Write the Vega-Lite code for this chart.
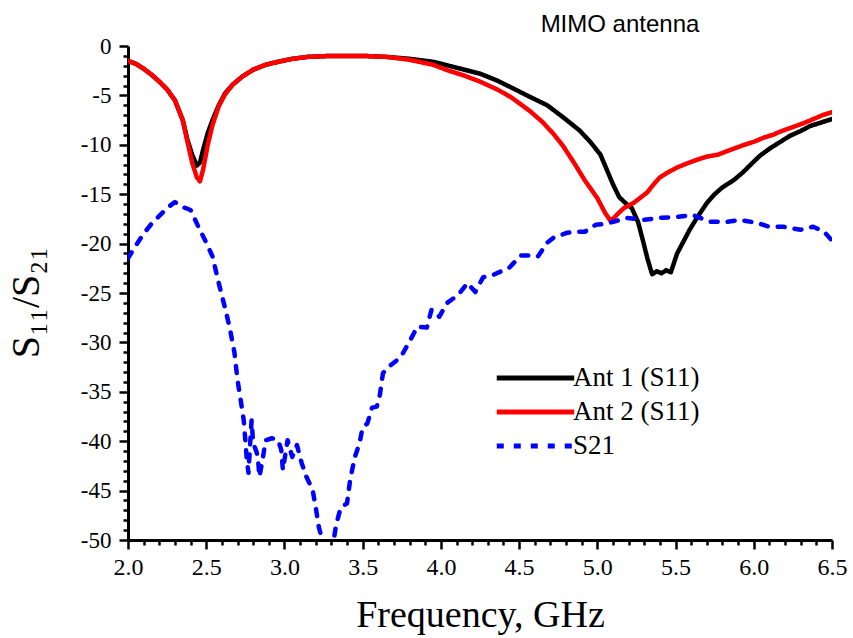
{
  "$schema": "https://vega.github.io/schema/vega-lite/v6.json",
  "width": 704,
  "height": 494,
  "autosize": {"type": "none"},
  "padding": {"left": 128, "top": 46, "right": 21, "bottom": 98},
  "background": "white",
  "title": {"text": "MIMO antenna", "font": "Liberation Sans", "fontSize": 24, "fontWeight": "normal", "color": "black", "anchor": "middle", "dx": 140, "offset": -2},
  "config": {
    "font": "Liberation Serif",
    "view": {"stroke": null},
    "axis": {"grid": false, "labelFont": "Liberation Serif", "titleFont": "Liberation Serif", "labelColor": "black", "titleColor": "black"},
    "legend": {
      "orient": "none", "legendX": 366, "legendY": 316, "title": null, "padding": 0,
      "symbolType": "stroke", "symbolSize": 6000, "symbolStrokeWidth": 5,
      "labelFont": "Liberation Serif", "labelFontSize": 27, "labelColor": "black", "labelOffset": -4,
      "clipHeight": 32, "rowPadding": 2
    }
  },
  "data": {"values": [
    {"series": "Ant 1 (S11)", "f": 2.00, "db": -1.5},
    {"series": "Ant 1 (S11)", "f": 2.05, "db": -1.8},
    {"series": "Ant 1 (S11)", "f": 2.10, "db": -2.3},
    {"series": "Ant 1 (S11)", "f": 2.15, "db": -2.9},
    {"series": "Ant 1 (S11)", "f": 2.20, "db": -3.6},
    {"series": "Ant 1 (S11)", "f": 2.25, "db": -4.4},
    {"series": "Ant 1 (S11)", "f": 2.30, "db": -5.5},
    {"series": "Ant 1 (S11)", "f": 2.35, "db": -7.5},
    {"series": "Ant 1 (S11)", "f": 2.38, "db": -9.5},
    {"series": "Ant 1 (S11)", "f": 2.41, "db": -11.0},
    {"series": "Ant 1 (S11)", "f": 2.44, "db": -12.1},
    {"series": "Ant 1 (S11)", "f": 2.46, "db": -11.8},
    {"series": "Ant 1 (S11)", "f": 2.48, "db": -10.5},
    {"series": "Ant 1 (S11)", "f": 2.51, "db": -8.8},
    {"series": "Ant 1 (S11)", "f": 2.54, "db": -7.5},
    {"series": "Ant 1 (S11)", "f": 2.58, "db": -6.0},
    {"series": "Ant 1 (S11)", "f": 2.62, "db": -4.8},
    {"series": "Ant 1 (S11)", "f": 2.67, "db": -3.9},
    {"series": "Ant 1 (S11)", "f": 2.73, "db": -3.1},
    {"series": "Ant 1 (S11)", "f": 2.80, "db": -2.4},
    {"series": "Ant 1 (S11)", "f": 2.88, "db": -1.9},
    {"series": "Ant 1 (S11)", "f": 2.96, "db": -1.6},
    {"series": "Ant 1 (S11)", "f": 3.05, "db": -1.3},
    {"series": "Ant 1 (S11)", "f": 3.15, "db": -1.1},
    {"series": "Ant 1 (S11)", "f": 3.30, "db": -1.0},
    {"series": "Ant 1 (S11)", "f": 3.50, "db": -1.0},
    {"series": "Ant 1 (S11)", "f": 3.65, "db": -1.1},
    {"series": "Ant 1 (S11)", "f": 3.80, "db": -1.3},
    {"series": "Ant 1 (S11)", "f": 3.95, "db": -1.6},
    {"series": "Ant 1 (S11)", "f": 4.05, "db": -2.0},
    {"series": "Ant 1 (S11)", "f": 4.15, "db": -2.4},
    {"series": "Ant 1 (S11)", "f": 4.25, "db": -2.8},
    {"series": "Ant 1 (S11)", "f": 4.36, "db": -3.5},
    {"series": "Ant 1 (S11)", "f": 4.45, "db": -4.2},
    {"series": "Ant 1 (S11)", "f": 4.55, "db": -5.0},
    {"series": "Ant 1 (S11)", "f": 4.68, "db": -6.0},
    {"series": "Ant 1 (S11)", "f": 4.78, "db": -7.2},
    {"series": "Ant 1 (S11)", "f": 4.89, "db": -8.6},
    {"series": "Ant 1 (S11)", "f": 4.96, "db": -9.8},
    {"series": "Ant 1 (S11)", "f": 5.02, "db": -11.0},
    {"series": "Ant 1 (S11)", "f": 5.06, "db": -12.5},
    {"series": "Ant 1 (S11)", "f": 5.10, "db": -14.0},
    {"series": "Ant 1 (S11)", "f": 5.14, "db": -15.3},
    {"series": "Ant 1 (S11)", "f": 5.18, "db": -15.9},
    {"series": "Ant 1 (S11)", "f": 5.22, "db": -16.4},
    {"series": "Ant 1 (S11)", "f": 5.26, "db": -17.8},
    {"series": "Ant 1 (S11)", "f": 5.29, "db": -19.6},
    {"series": "Ant 1 (S11)", "f": 5.32, "db": -21.5},
    {"series": "Ant 1 (S11)", "f": 5.35, "db": -23.1},
    {"series": "Ant 1 (S11)", "f": 5.38, "db": -22.8},
    {"series": "Ant 1 (S11)", "f": 5.41, "db": -23.0},
    {"series": "Ant 1 (S11)", "f": 5.44, "db": -22.7},
    {"series": "Ant 1 (S11)", "f": 5.47, "db": -22.9},
    {"series": "Ant 1 (S11)", "f": 5.51, "db": -21.0},
    {"series": "Ant 1 (S11)", "f": 5.55, "db": -19.8},
    {"series": "Ant 1 (S11)", "f": 5.59, "db": -18.6},
    {"series": "Ant 1 (S11)", "f": 5.64, "db": -17.3},
    {"series": "Ant 1 (S11)", "f": 5.70, "db": -15.9},
    {"series": "Ant 1 (S11)", "f": 5.75, "db": -15.0},
    {"series": "Ant 1 (S11)", "f": 5.80, "db": -14.3},
    {"series": "Ant 1 (S11)", "f": 5.87, "db": -13.6},
    {"series": "Ant 1 (S11)", "f": 5.93, "db": -12.8},
    {"series": "Ant 1 (S11)", "f": 6.00, "db": -11.7},
    {"series": "Ant 1 (S11)", "f": 6.04, "db": -11.1},
    {"series": "Ant 1 (S11)", "f": 6.10, "db": -10.4},
    {"series": "Ant 1 (S11)", "f": 6.17, "db": -9.7},
    {"series": "Ant 1 (S11)", "f": 6.23, "db": -9.1},
    {"series": "Ant 1 (S11)", "f": 6.30, "db": -8.6},
    {"series": "Ant 1 (S11)", "f": 6.36, "db": -8.1},
    {"series": "Ant 1 (S11)", "f": 6.42, "db": -7.8},
    {"series": "Ant 1 (S11)", "f": 6.50, "db": -7.4},

    {"series": "Ant 2 (S11)", "f": 2.00, "db": -1.5},
    {"series": "Ant 2 (S11)", "f": 2.05, "db": -1.8},
    {"series": "Ant 2 (S11)", "f": 2.10, "db": -2.3},
    {"series": "Ant 2 (S11)", "f": 2.15, "db": -2.9},
    {"series": "Ant 2 (S11)", "f": 2.20, "db": -3.6},
    {"series": "Ant 2 (S11)", "f": 2.25, "db": -4.4},
    {"series": "Ant 2 (S11)", "f": 2.30, "db": -5.5},
    {"series": "Ant 2 (S11)", "f": 2.35, "db": -7.5},
    {"series": "Ant 2 (S11)", "f": 2.38, "db": -9.7},
    {"series": "Ant 2 (S11)", "f": 2.41, "db": -11.8},
    {"series": "Ant 2 (S11)", "f": 2.44, "db": -13.3},
    {"series": "Ant 2 (S11)", "f": 2.46, "db": -13.7},
    {"series": "Ant 2 (S11)", "f": 2.48, "db": -12.5},
    {"series": "Ant 2 (S11)", "f": 2.51, "db": -10.0},
    {"series": "Ant 2 (S11)", "f": 2.54, "db": -8.0},
    {"series": "Ant 2 (S11)", "f": 2.58, "db": -6.1},
    {"series": "Ant 2 (S11)", "f": 2.62, "db": -4.9},
    {"series": "Ant 2 (S11)", "f": 2.67, "db": -3.9},
    {"series": "Ant 2 (S11)", "f": 2.73, "db": -3.1},
    {"series": "Ant 2 (S11)", "f": 2.80, "db": -2.4},
    {"series": "Ant 2 (S11)", "f": 2.88, "db": -1.9},
    {"series": "Ant 2 (S11)", "f": 2.96, "db": -1.6},
    {"series": "Ant 2 (S11)", "f": 3.05, "db": -1.3},
    {"series": "Ant 2 (S11)", "f": 3.15, "db": -1.1},
    {"series": "Ant 2 (S11)", "f": 3.30, "db": -1.0},
    {"series": "Ant 2 (S11)", "f": 3.50, "db": -1.0},
    {"series": "Ant 2 (S11)", "f": 3.65, "db": -1.1},
    {"series": "Ant 2 (S11)", "f": 3.80, "db": -1.4},
    {"series": "Ant 2 (S11)", "f": 3.95, "db": -1.9},
    {"series": "Ant 2 (S11)", "f": 4.05, "db": -2.5},
    {"series": "Ant 2 (S11)", "f": 4.15, "db": -3.0},
    {"series": "Ant 2 (S11)", "f": 4.25, "db": -3.6},
    {"series": "Ant 2 (S11)", "f": 4.36, "db": -4.4},
    {"series": "Ant 2 (S11)", "f": 4.45, "db": -5.2},
    {"series": "Ant 2 (S11)", "f": 4.57, "db": -6.6},
    {"series": "Ant 2 (S11)", "f": 4.65, "db": -7.7},
    {"series": "Ant 2 (S11)", "f": 4.72, "db": -8.9},
    {"series": "Ant 2 (S11)", "f": 4.78, "db": -10.1},
    {"series": "Ant 2 (S11)", "f": 4.85, "db": -11.8},
    {"series": "Ant 2 (S11)", "f": 4.92, "db": -13.6},
    {"series": "Ant 2 (S11)", "f": 5.00, "db": -15.4},
    {"series": "Ant 2 (S11)", "f": 5.05, "db": -16.9},
    {"series": "Ant 2 (S11)", "f": 5.08, "db": -17.6},
    {"series": "Ant 2 (S11)", "f": 5.10, "db": -17.5},
    {"series": "Ant 2 (S11)", "f": 5.13, "db": -17.0},
    {"series": "Ant 2 (S11)", "f": 5.17, "db": -16.4},
    {"series": "Ant 2 (S11)", "f": 5.23, "db": -15.9},
    {"series": "Ant 2 (S11)", "f": 5.28, "db": -15.3},
    {"series": "Ant 2 (S11)", "f": 5.32, "db": -14.8},
    {"series": "Ant 2 (S11)", "f": 5.36, "db": -14.0},
    {"series": "Ant 2 (S11)", "f": 5.40, "db": -13.3},
    {"series": "Ant 2 (S11)", "f": 5.45, "db": -12.8},
    {"series": "Ant 2 (S11)", "f": 5.51, "db": -12.3},
    {"series": "Ant 2 (S11)", "f": 5.57, "db": -11.9},
    {"series": "Ant 2 (S11)", "f": 5.64, "db": -11.5},
    {"series": "Ant 2 (S11)", "f": 5.70, "db": -11.2},
    {"series": "Ant 2 (S11)", "f": 5.77, "db": -11.0},
    {"series": "Ant 2 (S11)", "f": 5.82, "db": -10.7},
    {"series": "Ant 2 (S11)", "f": 5.87, "db": -10.4},
    {"series": "Ant 2 (S11)", "f": 5.94, "db": -10.0},
    {"series": "Ant 2 (S11)", "f": 6.00, "db": -9.7},
    {"series": "Ant 2 (S11)", "f": 6.06, "db": -9.3},
    {"series": "Ant 2 (S11)", "f": 6.12, "db": -9.0},
    {"series": "Ant 2 (S11)", "f": 6.18, "db": -8.6},
    {"series": "Ant 2 (S11)", "f": 6.25, "db": -8.2},
    {"series": "Ant 2 (S11)", "f": 6.32, "db": -7.8},
    {"series": "Ant 2 (S11)", "f": 6.38, "db": -7.4},
    {"series": "Ant 2 (S11)", "f": 6.44, "db": -7.0},
    {"series": "Ant 2 (S11)", "f": 6.50, "db": -6.7},

    {"series": "S21", "f": 2.00, "db": -21.5},
    {"series": "S21", "f": 2.05, "db": -20.2},
    {"series": "S21", "f": 2.10, "db": -19.0},
    {"series": "S21", "f": 2.15, "db": -18.0},
    {"series": "S21", "f": 2.20, "db": -17.2},
    {"series": "S21", "f": 2.25, "db": -16.4},
    {"series": "S21", "f": 2.30, "db": -15.8},
    {"series": "S21", "f": 2.35, "db": -16.3},
    {"series": "S21", "f": 2.40, "db": -16.6},
    {"series": "S21", "f": 2.45, "db": -18.3},
    {"series": "S21", "f": 2.50, "db": -19.9},
    {"series": "S21", "f": 2.54, "db": -21.3},
    {"series": "S21", "f": 2.58, "db": -24.0},
    {"series": "S21", "f": 2.62, "db": -26.5},
    {"series": "S21", "f": 2.65, "db": -28.5},
    {"series": "S21", "f": 2.68, "db": -31.0},
    {"series": "S21", "f": 2.70, "db": -33.8},
    {"series": "S21", "f": 2.72, "db": -35.8},
    {"series": "S21", "f": 2.74, "db": -37.9},
    {"series": "S21", "f": 2.75, "db": -39.9},
    {"series": "S21", "f": 2.76, "db": -42.0},
    {"series": "S21", "f": 2.77, "db": -43.2},
    {"series": "S21", "f": 2.78, "db": -40.5},
    {"series": "S21", "f": 2.79, "db": -37.9},
    {"series": "S21", "f": 2.80, "db": -40.2},
    {"series": "S21", "f": 2.82, "db": -41.0},
    {"series": "S21", "f": 2.83, "db": -41.6},
    {"series": "S21", "f": 2.84, "db": -43.6},
    {"series": "S21", "f": 2.86, "db": -41.9},
    {"series": "S21", "f": 2.88, "db": -39.9},
    {"series": "S21", "f": 2.92, "db": -39.7},
    {"series": "S21", "f": 2.96, "db": -39.9},
    {"series": "S21", "f": 2.98, "db": -40.9},
    {"series": "S21", "f": 2.99, "db": -42.9},
    {"series": "S21", "f": 3.02, "db": -39.9},
    {"series": "S21", "f": 3.05, "db": -41.6},
    {"series": "S21", "f": 3.08, "db": -40.4},
    {"series": "S21", "f": 3.11, "db": -42.2},
    {"series": "S21", "f": 3.14, "db": -43.6},
    {"series": "S21", "f": 3.18, "db": -44.9},
    {"series": "S21", "f": 3.20, "db": -46.7},
    {"series": "S21", "f": 3.22, "db": -48.7},
    {"series": "S21", "f": 3.25, "db": -50.5},
    {"series": "S21", "f": 3.28, "db": -51.5},
    {"series": "S21", "f": 3.31, "db": -50.5},
    {"series": "S21", "f": 3.33, "db": -48.5},
    {"series": "S21", "f": 3.36, "db": -46.7},
    {"series": "S21", "f": 3.40, "db": -46.3},
    {"series": "S21", "f": 3.42, "db": -43.9},
    {"series": "S21", "f": 3.45, "db": -41.6},
    {"series": "S21", "f": 3.48, "db": -40.2},
    {"series": "S21", "f": 3.50, "db": -38.6},
    {"series": "S21", "f": 3.53, "db": -38.2},
    {"series": "S21", "f": 3.56, "db": -36.6},
    {"series": "S21", "f": 3.59, "db": -36.5},
    {"series": "S21", "f": 3.61, "db": -35.3},
    {"series": "S21", "f": 3.63, "db": -33.1},
    {"series": "S21", "f": 3.68, "db": -32.3},
    {"series": "S21", "f": 3.72, "db": -31.8},
    {"series": "S21", "f": 3.75, "db": -31.3},
    {"series": "S21", "f": 3.80, "db": -29.9},
    {"series": "S21", "f": 3.85, "db": -28.4},
    {"series": "S21", "f": 3.91, "db": -28.5},
    {"series": "S21", "f": 3.94, "db": -26.7},
    {"series": "S21", "f": 3.99, "db": -27.4},
    {"series": "S21", "f": 4.04, "db": -26.0},
    {"series": "S21", "f": 4.11, "db": -25.2},
    {"series": "S21", "f": 4.17, "db": -24.0},
    {"series": "S21", "f": 4.22, "db": -24.9},
    {"series": "S21", "f": 4.27, "db": -23.4},
    {"series": "S21", "f": 4.33, "db": -23.2},
    {"series": "S21", "f": 4.40, "db": -22.7},
    {"series": "S21", "f": 4.44, "db": -22.4},
    {"series": "S21", "f": 4.51, "db": -21.2},
    {"series": "S21", "f": 4.56, "db": -21.2},
    {"series": "S21", "f": 4.62, "db": -21.3},
    {"series": "S21", "f": 4.68, "db": -19.9},
    {"series": "S21", "f": 4.72, "db": -19.4},
    {"series": "S21", "f": 4.81, "db": -18.9},
    {"series": "S21", "f": 4.86, "db": -18.8},
    {"series": "S21", "f": 4.92, "db": -18.8},
    {"series": "S21", "f": 4.99, "db": -18.1},
    {"series": "S21", "f": 5.05, "db": -18.0},
    {"series": "S21", "f": 5.10, "db": -17.8},
    {"series": "S21", "f": 5.19, "db": -17.4},
    {"series": "S21", "f": 5.29, "db": -17.6},
    {"series": "S21", "f": 5.40, "db": -17.4},
    {"series": "S21", "f": 5.51, "db": -17.3},
    {"series": "S21", "f": 5.61, "db": -17.1},
    {"series": "S21", "f": 5.72, "db": -17.8},
    {"series": "S21", "f": 5.83, "db": -17.8},
    {"series": "S21", "f": 5.91, "db": -17.6},
    {"series": "S21", "f": 6.02, "db": -17.9},
    {"series": "S21", "f": 6.10, "db": -18.3},
    {"series": "S21", "f": 6.19, "db": -18.3},
    {"series": "S21", "f": 6.30, "db": -18.6},
    {"series": "S21", "f": 6.38, "db": -18.3},
    {"series": "S21", "f": 6.45, "db": -18.8},
    {"series": "S21", "f": 6.50, "db": -19.7}
  ]},
  "mark": {"type": "line", "clip": true, "strokeWidth": 4.5, "strokeCap": "round", "strokeJoin": "round"},
  "encoding": {
    "x": {
      "field": "f", "type": "quantitative",
      "scale": {"domain": [2, 6.5], "nice": false, "zero": false},
      "axis": {
        "values": [2.0,2.1,2.2,2.3,2.4,2.5,2.6,2.7,2.8,2.9,3.0,3.1,3.2,3.3,3.4,3.5,3.6,3.7,3.8,3.9,4.0,4.1,4.2,4.3,4.4,4.5,4.6,4.7,4.8,4.9,5.0,5.1,5.2,5.3,5.4,5.5,5.6,5.7,5.8,5.9,6.0,6.1,6.2,6.3,6.4,6.5],
        "labelExpr": "abs(datum.value*2 - round(datum.value*2)) < 0.001 ? format(datum.value, '.1f') : ''",
        "tickSize": {"condition": {"test": "abs(datum.value*2 - round(datum.value*2)) < 0.001", "value": 9}, "value": 5},
        "labelOverlap": false, "labelFlush": false,
        "domainColor": "black", "domainWidth": 3, "tickColor": "black", "tickWidth": 2.5,
        "labelFont": "Liberation Serif", "labelFontSize": 24, "labelColor": "black", "labelPadding": 6,
        "title": "Frequency, GHz", "titleFont": "Liberation Serif", "titleFontSize": 38, "titleFontWeight": "normal", "titleColor": "black", "titlePadding": 17
      }
    },
    "y": {
      "field": "db", "type": "quantitative",
      "scale": {"domain": [-50, 0], "nice": false, "zero": false},
      "axis": {
        "values": [-50,-49,-48,-47,-46,-45,-44,-43,-42,-41,-40,-39,-38,-37,-36,-35,-34,-33,-32,-31,-30,-29,-28,-27,-26,-25,-24,-23,-22,-21,-20,-19,-18,-17,-16,-15,-14,-13,-12,-11,-10,-9,-8,-7,-6,-5,-4,-3,-2,-1,0],
        "labelExpr": "datum.value % 5 == 0 ? toString(datum.value) : ''",
        "tickSize": {"condition": {"test": "datum.value % 5 == 0", "value": 9}, "value": 5},
        "labelOverlap": false, "labelFlush": false,
        "domainColor": "black", "domainWidth": 3, "tickColor": "black", "tickWidth": 2.5,
        "labelFont": "Liberation Serif", "labelFontSize": 23, "labelColor": "black", "labelPadding": 8,
        "title": "S₁₁/S₂₁", "titleFont": "Liberation Serif", "titleFontSize": 40, "titleFontWeight": "normal", "titleColor": "black", "titlePadding": 34, "titleY": 256
      }
    },
    "color": {
      "field": "series", "type": "nominal",
      "scale": {"domain": ["Ant 1 (S11)", "Ant 2 (S11)", "S21"], "range": ["#000000", "#ff0000", "#0000ff"]}
    },
    "strokeDash": {
      "field": "series", "type": "nominal",
      "scale": {"domain": ["Ant 1 (S11)", "Ant 2 (S11)", "S21"], "range": [[1, 0], [1, 0], [7, 10]]}
    }
  }
}
